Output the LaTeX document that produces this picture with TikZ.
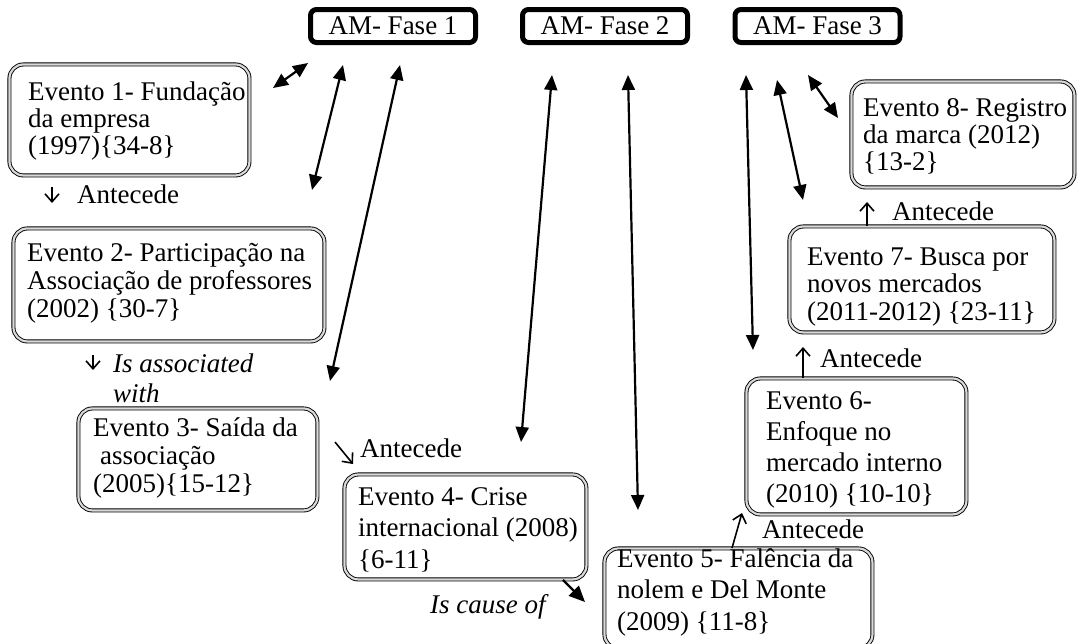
\documentclass[tikz,border=0pt]{standalone}
\usepackage{fontspec}
\setmainfont{Liberation Serif}
\usetikzlibrary{arrows.meta,calc}

\tikzset{
  phase/.style={draw, line width=5pt, rounded corners=6pt, minimum width=165pt,
    minimum height=33pt, inner sep=0pt, font=\fontsize{27}{31}\selectfont},
  evbox/.style={draw, double=gray!30, line width=0.9pt, double distance=2.2pt,
    rounded corners=14pt, anchor=north west, inner sep=0pt},
  evtext/.style={anchor=north west, inner sep=0pt, align=left},
  rel/.style={anchor=base west, inner sep=0pt, font=\fontsize{27}{30}\selectfont},
  link/.style={line width=2.2pt,
    {Triangle[length=15pt,width=13pt]}-{Triangle[length=15pt,width=13pt]}},
  cause/.style={line width=2.4pt, -{Triangle[length=16pt,width=14pt]}},
  tick/.style={line width=1.6pt, -{Straight Barb[length=8pt,width=14pt]}},
}
\newcommand{\firstline}{\rule{0pt}{21pt}}

\begin{document}
\begin{tikzpicture}[x=1pt, y=-1pt]
\useasboundingbox (0,0) rectangle (1078,643);

% phases
\node[phase] (f1) at (393,26) {AM- Fase 1};
\node[phase] (f2) at (605,26) {AM- Fase 2};
\node[phase] (f3) at (817.5,26) {AM- Fase 3};

% event frames
\node[evbox, minimum width=240pt, minimum height=111pt] (e1) at (9,64) {};
\node[evbox, minimum width=311pt, minimum height=113pt] (e2) at (13,228) {};
\node[evbox, minimum width=239pt, minimum height=102pt] (e3) at (78,408) {};
\node[evbox, minimum width=242pt, minimum height=105pt] (e4) at (344,474) {};
\node[evbox, minimum width=268pt, minimum height=100pt] (e5) at (604,548) {};
\node[evbox, minimum width=220pt, minimum height=136pt] (e6) at (746,378) {};
\node[evbox, minimum width=265pt, minimum height=106pt] (e7) at (789,226) {};
\node[evbox, minimum width=223pt, minimum height=106pt] (e8) at (851,81) {};

% event texts
\node[evtext, font=\fontsize{27}{27}\selectfont] (t1) at (28,79)
  {\firstline Evento 1- Fundação\\da empresa\\(1997)\{34-8\}};
\node[evtext, font=\fontsize{27}{28}\selectfont] (t2) at (27,240)
  {\firstline Evento 2- Participação na\\Associação de professores\\(2002) \{30-7\}};
\node[evtext, font=\fontsize{27}{28}\selectfont] (t3) at (93,415)
  {\firstline Evento 3- Saída da\\\hspace{7pt}associação\\(2005)\{15-12\}};
\node[evtext, font=\fontsize{27}{31.5}\selectfont] (t4) at (358,484)
  {\firstline Evento 4- Crise\\internacional (2008)\\\{6-11\}};
\node[evtext, font=\fontsize{27}{31.5}\selectfont] (t5) at (617,546)
  {\firstline Evento 5- Falência da\\nolem e Del Monte\\(2009) \{11-8\}};
\node[evtext, font=\fontsize{27}{31}\selectfont] (t6) at (766,388)
  {\firstline Evento 6-\\Enfoque no\\mercado interno\\(2010) \{10-10\}};
\node[evtext, font=\fontsize{27}{27.5}\selectfont] (t7) at (807,244)
  {\firstline Evento 7- Busca por\\novos mercados\\(2011-2012) \{23-11\}};
\node[evtext, font=\fontsize{27}{27}\selectfont] (t8) at (863,95)
  {\firstline Evento 8- Registro\\da marca (2012)\\\{13-2\}};

% relation labels
\node[rel] (r1) at (77,203) {Antecede};
\node[evtext, font=\fontsize{27}{30}\itshape] (r2) at (113,351) {\firstline Is associated\\with};
\node[rel] (r3) at (360,457) {Antecede};
\node[rel, font=\fontsize{27}{30}\itshape] (r4) at (430,613) {Is cause of};
\node[rel] (r5) at (762,538) {Antecede};
\node[rel] (r6) at (820,367) {Antecede};
\node[rel] (r7) at (892,220) {Antecede};

% small relation arrows
\coordinate (k1a) at (52,187);  \coordinate (k1b) at (52,203);
\coordinate (k2a) at (93,355);  \coordinate (k2b) at (93,370);
\coordinate (k3a) at (335,442); \coordinate (k3b) at (353,464);
\coordinate (k5b) at (742,513);
\coordinate (k6b) at (803,347);
\coordinate (k7b) at (867,202);
\draw[tick] (k1a) -- (k1b);
\draw[tick] (k2a) -- (k2b);
\draw[tick] (k3a) -- (k3b);
\draw[tick] ($(e5.north west)+(128,0)$) -- (k5b);
\draw[tick] ($(e6.north west)+(57,0)$) -- (k6b);
\draw[tick] ($(e7.north west)+(78,0)$) -- (k7b);

% causal link between events 4 and 5
\draw[cause] ($(e4.south east)+(-24,0)$) -- ($(e5.north west)+(-19,54)$);

% phase links
\coordinate (a1a) at (273,88);  \coordinate (a1b) at (308,63);
\coordinate (a2a) at (343,65);  \coordinate (a2b) at (312,190);
\coordinate (a3a) at (400,65);  \coordinate (a3b) at (330,381);
\coordinate (a4a) at (552,75);  \coordinate (a4b) at (521,442);
\coordinate (a5a) at (628,75);  \coordinate (a5b) at (638,510);
\coordinate (a6a) at (746,75);  \coordinate (a6b) at (753,350);
\coordinate (a7a) at (777,80);  \coordinate (a7b) at (803,200);
\coordinate (a8a) at (808,75);  \coordinate (a8b) at (838,118);
\foreach \i in {1,...,8} \draw[link] (a\i a) -- (a\i b);
\end{tikzpicture}
\end{document}
